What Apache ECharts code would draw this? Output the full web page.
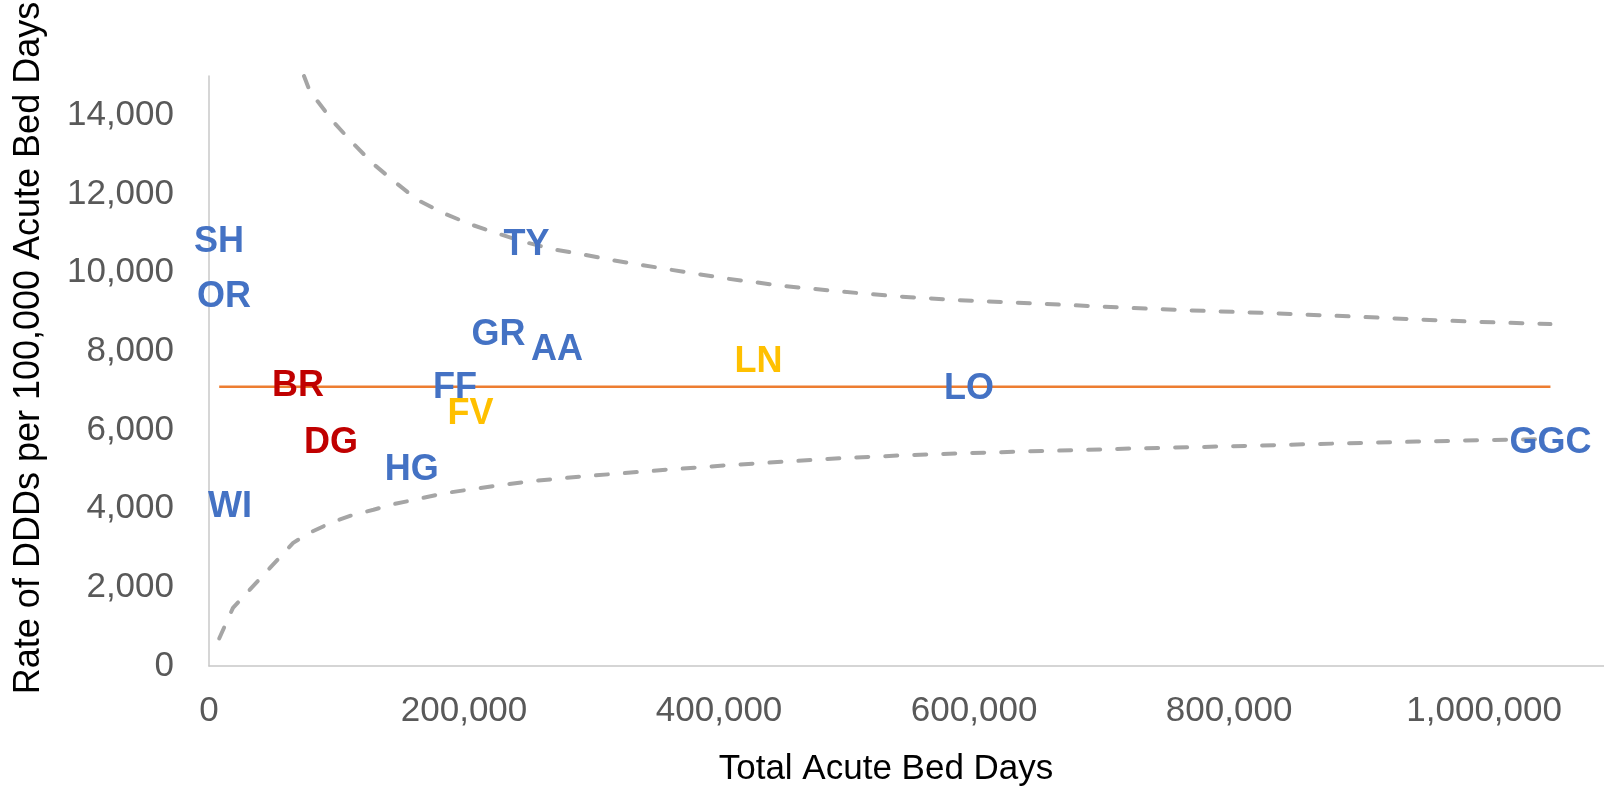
<!DOCTYPE html>
<html>
<head>
<meta charset="utf-8">
<title>Funnel plot – DDDs per 100,000 acute bed days</title>
<script src="https://cdn.jsdelivr.net/npm/echarts@6/dist/echarts.min.js"></script>
<style>
  html, body { margin: 0; padding: 0; background: #ffffff; }
  #chart { width: 1604px; height: 795px; }
</style>
</head>
<body>
<div id="chart"></div>
<script>
// Health boards: total acute bed days (x) and DDD rate per 100,000 bed days (y)
const boardCodes = ['SH', 'OR', 'WI', 'BR', 'DG', 'HG', 'FF', 'FV', 'GR', 'TY', 'AA', 'LN', 'LO', 'GGC'];
const bedDays    = [7800, 11800, 16500, 69800, 95700, 159000, 193000, 205000, 227000, 249000, 273000, 431000, 596000, 1052000];
const dddRate    = [10880, 9480, 4150, 7210, 5770, 5090, 7160, 6500, 8510, 10800, 8130, 7820, 7130, 5780];

// Boards highlighted in other colours
const redBoards   = ['BR', 'DG'];
const amberBoards = ['FV', 'LN'];

// Overall mean rate
const meanRate = 7100;
const meanBedDays = [8000, 1052000];

// Upper control limit (enters the plot at the 15,000 ceiling)
const upperBedDays = [74500, 79000, 97000, 112000, 129000, 146000, 163000, 184000, 205000,
  226000, 248000, 270000, 293000, 316000, 361000, 406000, 451000, 496000, 542000, 587000, 634000, 679000,
  725000, 770000, 816000, 862000, 907000, 947000, 995000, 1052000];
const upperLimit = [15000, 14620, 13855, 13320, 12760, 12300, 11860, 11510, 11230,
  11000, 10775, 10595, 10465, 10320, 10080, 9850, 9660, 9518, 9391, 9304, 9238, 9170,
  9100, 9041, 8990, 8932, 8871, 8812, 8750, 8693];

// Lower control limit
const lowerBedDays = [8000, 18800, 50000, 66000, 79000, 97000, 112000, 129000, 146000, 163000, 184000, 205000,
  226000, 248000, 270000, 293000, 316000, 361000, 406000, 451000, 496000, 542000, 587000, 634000, 679000,
  725000, 770000, 816000, 862000, 907000, 947000, 995000, 1052000];
const lowerLimit = [700, 1477, 2570, 3130, 3390, 3660, 3830, 3973, 4125, 4238, 4390, 4490,
  4585, 4680, 4752, 4820, 4880, 4996, 5103, 5195, 5285, 5352, 5403, 5450, 5487,
  5530, 5562, 5598, 5639, 5674, 5705, 5738, 5770];

// Axis ticks
const xTicks = { min: 0, max: 1094000, step: 200000 };
const yTicks = { min: 0, max: 15000, step: 2000 };

const FONT = '"Liberation Sans", Arial, Helvetica, sans-serif';
const BLUE = '#4472C4', RED = '#C00000', AMBER = '#FFC000';

function boardColour(code) {
  if (redBoards.includes(code)) return RED;
  if (amberBoards.includes(code)) return AMBER;
  return BLUE;
}

const fmt = v => Math.round(v).toLocaleString('en-US');

const boardPoints = boardCodes.map((code, i) => ({
  name: code,
  value: [bedDays[i], dddRate[i]],
  label: { color: boardColour(code) }
}));

const upperLine = upperBedDays.map((x, i) => [x, upperLimit[i]]);
const lowerLine = lowerBedDays.map((x, i) => [x, lowerLimit[i]]);
const meanLine  = meanBedDays.map(x => [x, meanRate]);

const limitStyle = { color: '#A5A5A5', width: 4, type: [12, 17], cap: 'round' };

const chart = echarts.init(document.getElementById('chart'), null, { renderer: 'canvas' });

chart.setOption({
  animation: false,
  backgroundColor: '#ffffff',
  grid: { left: 209, right: 0, top: 76, bottom: 129, containLabel: false },
  xAxis: {
    type: 'value',
    min: xTicks.min,
    max: xTicks.max,
    interval: xTicks.step,
    axisLine: { show: true, lineStyle: { color: '#C8C8C8', width: 1.5 } },
    axisTick: { show: false },
    splitLine: { show: false },
    axisLabel: {
      show: true,
      showMaxLabel: false,
      margin: 28,
      color: '#595959',
      fontSize: 35,
      fontFamily: FONT,
      formatter: fmt
    }
  },
  yAxis: {
    type: 'value',
    min: yTicks.min,
    max: yTicks.max,
    interval: yTicks.step,
    axisLine: { show: true, lineStyle: { color: '#C8C8C8', width: 1.5 } },
    axisTick: { show: false },
    splitLine: { show: false },
    axisLabel: {
      show: true,
      showMaxLabel: false,
      margin: 35,
      padding: [7, 0, 0, 0],
      color: '#595959',
      fontSize: 35,
      fontFamily: FONT,
      formatter: fmt
    }
  },
  graphic: [
    {
      type: 'text',
      x: 29, y: 348,
      rotation: Math.PI / 2,
      style: {
        text: 'Rate of DDDs per 100,000 Acute Bed Days',
        fontSize: 36, fontFamily: FONT, fill: '#000000',
        textAlign: 'center', textVerticalAlign: 'middle'
      }
    },
    {
      type: 'text',
      x: 886, y: 769,
      style: {
        text: 'Total Acute Bed Days',
        fontSize: 35, fontFamily: FONT, fill: '#000000',
        textAlign: 'center', textVerticalAlign: 'middle'
      }
    }
  ],
  series: [
    {
      name: 'Upper limit',
      type: 'line',
      data: upperLine,
      symbol: 'none',
      clip: true,
      lineStyle: limitStyle,
      z: 2
    },
    {
      name: 'Lower limit',
      type: 'line',
      data: lowerLine,
      symbol: 'none',
      clip: true,
      lineStyle: limitStyle,
      z: 2
    },
    {
      name: 'Mean',
      type: 'line',
      data: meanLine,
      symbol: 'none',
      lineStyle: { color: '#ED7D31', width: 2.5 },
      z: 3
    },
    {
      name: 'Boards',
      type: 'scatter',
      data: boardPoints,
      symbol: 'circle',
      symbolSize: 1,
      itemStyle: { color: 'rgba(0,0,0,0)', opacity: 1 },
      label: {
        show: true,
        position: 'inside',
        offset: [0, 4],
        formatter: '{b}',
        fontSize: 36,
        fontWeight: 'bold',
        fontFamily: FONT,
        opacity: 1,
        textBorderWidth: 0
      },
      z: 5
    }
  ]
});
</script>
</body>
</html>
